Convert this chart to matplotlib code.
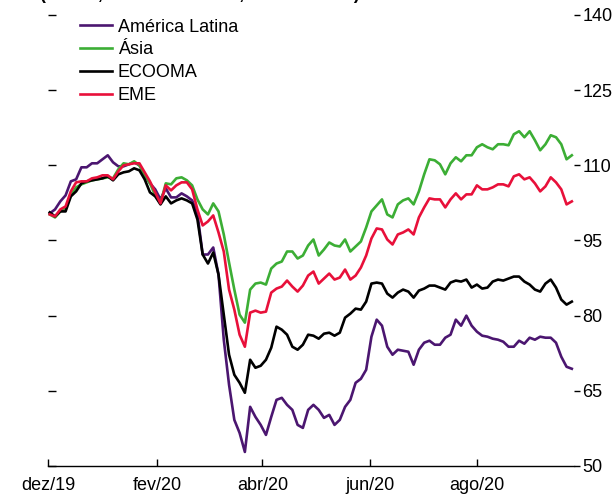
import matplotlib
matplotlib.use("Agg")
import matplotlib.pyplot as plt
import pandas as pd

plt.rcParams['font.family'] = ['Liberation Sans', 'DejaVu Sans']

# Datas (amostra a cada 3 dias a partir de 2/12/2019)
datas = pd.date_range('2019-12-02', periods=100, freq='3D')

america_latina = [
    100.4, 101.2, 102.8, 104.0, 106.8, 107.2, 109.6, 109.6, 110.4, 110.4,
    111.2, 112.0, 110.6, 109.8, 109.8, 110.2, 110.6, 110.0, 108.2, 106.4,
    105.2, 103.2, 105.4, 103.6, 103.6, 104.4, 103.8, 103.0, 100.4, 92.2,
    92.2, 93.6, 88.2, 75.2, 66.2, 59.2, 56.6, 52.8, 61.8, 59.8,
    58.2, 56.2, 59.8, 63.2, 63.6, 62.2, 61.2, 58.2, 57.6, 61.2,
    62.2, 61.2, 59.6, 60.2, 58.2, 59.2, 61.8, 63.2, 66.6, 67.4,
    69.2, 75.8, 79.2, 78.0, 73.8, 72.2, 73.2, 73.0, 72.8, 70.2,
    73.2, 74.6, 75.0, 74.2, 74.2, 75.6, 76.2, 79.2, 78.0, 80.0,
    78.0, 76.8, 76.0, 75.8, 75.4, 75.2, 74.8, 73.8, 73.8, 75.0,
    74.4, 75.6, 75.2, 75.8, 75.6, 75.6, 74.6, 71.8, 69.8, 69.4]

asia = [
    100.2, 99.6, 100.8, 101.4, 104.0, 105.6, 106.2, 106.6, 107.0, 107.2,
    107.4, 107.6, 107.4, 109.2, 110.4, 110.2, 110.8, 110.0, 108.0, 106.4,
    104.0, 102.4, 106.4, 106.2, 107.4, 107.6, 107.0, 106.0, 103.2, 101.2,
    100.2, 102.4, 100.8, 96.2, 90.6, 85.2, 80.2, 78.6, 85.2, 86.4,
    86.6, 86.2, 89.4, 90.4, 90.8, 92.8, 92.8, 91.4, 92.0, 94.0,
    95.2, 92.0, 93.2, 94.6, 94.0, 93.8, 95.2, 92.8, 93.8, 94.8,
    97.6, 100.8, 102.0, 103.2, 100.2, 99.6, 102.2, 103.0, 103.4, 102.2,
    104.8, 108.2, 111.2, 111.0, 110.2, 108.2, 110.4, 111.6, 110.8, 112.0,
    112.0, 113.6, 114.2, 113.6, 113.2, 114.2, 114.2, 114.0, 116.2, 116.8,
    115.6, 116.8, 115.0, 113.0, 114.2, 116.0, 115.6, 114.2, 111.2, 112.0]

ecooma = [
    100.6, 99.8, 100.8, 100.8, 103.8, 104.8, 106.4, 106.8, 107.0, 107.2,
    107.4, 107.8, 107.0, 108.2, 108.6, 108.8, 109.4, 109.0, 107.2, 104.6,
    103.8, 102.2, 103.8, 102.4, 103.0, 103.4, 103.0, 102.4, 99.2, 92.2,
    90.4, 92.6, 88.2, 80.2, 72.2, 68.2, 66.6, 64.6, 71.2, 69.6,
    70.0, 71.2, 73.6, 77.8, 77.2, 76.2, 73.8, 73.2, 74.2, 76.2,
    76.0, 75.4, 76.4, 76.6, 76.0, 76.6, 79.6, 80.4, 81.4, 81.2,
    82.8, 86.4, 86.6, 86.4, 84.4, 83.6, 84.6, 85.2, 84.8, 83.6,
    85.0, 85.4, 86.0, 86.0, 85.6, 85.2, 86.6, 87.0, 86.8, 87.2,
    85.6, 86.2, 85.4, 85.6, 86.8, 87.2, 87.0, 87.4, 87.8, 87.8,
    86.8, 86.2, 85.2, 84.8, 86.4, 87.2, 85.6, 83.2, 82.2, 82.8]

eme = [
    100.2, 99.8, 101.2, 101.8, 104.8, 106.6, 106.8, 106.8, 107.4, 107.6,
    108.0, 108.0, 107.2, 108.8, 110.0, 110.2, 110.4, 110.4, 108.6, 106.8,
    104.6, 102.4, 106.0, 105.0, 106.0, 106.6, 106.6, 105.2, 101.2, 98.0,
    98.8, 100.0, 96.6, 92.8, 85.2, 81.2, 76.2, 73.8, 80.6, 81.0,
    80.6, 80.8, 84.6, 85.4, 85.8, 87.0, 85.8, 84.8, 86.0, 88.0,
    88.8, 86.4, 87.4, 88.4, 87.2, 87.6, 89.2, 87.2, 88.0, 89.6,
    92.0, 95.4, 97.4, 97.2, 95.2, 94.2, 96.2, 96.6, 97.2, 96.2,
    99.6, 101.6, 103.4, 103.2, 103.2, 101.6, 103.2, 104.4, 103.2, 104.2,
    104.2, 106.0, 105.2, 105.2, 105.6, 106.2, 106.2, 105.8, 107.8, 108.2,
    107.2, 107.6, 106.4, 104.8, 105.8, 107.6, 106.6, 105.2, 102.2, 102.8]

series = [
    ('América Latina', america_latina, '#4b1670'),
    ('Ásia', asia, '#3cae35'),
    ('ECOOMA', ecooma, '#000000'),
    ('EME', eme, '#e8103a'),
]

tick_datas = pd.to_datetime(['2019-12-01', '2020-02-01', '2020-04-01',
                             '2020-06-01', '2020-08-01'])
tick_rotulos = ['dez/19', 'fev/20', 'abr/20', 'jun/20', 'ago/20']
y_ticks = [50, 65, 80, 95, 110, 125, 140]

fig = plt.figure(figsize=(6.13, 5.01), dpi=100)
ax = fig.add_axes([0.0783, 0.0699, 0.8574, 0.9002])

for nome, valores, cor in series:
    ax.plot(datas, valores, color=cor, lw=1.9, label=nome, clip_on=False)

ax.set_xlim(pd.Timestamp('2019-12-01'), pd.Timestamp('2020-09-25'))
ax.set_ylim(50, 140)

for lado in ['top', 'left', 'right']:
    ax.spines[lado].set_visible(False)
ax.spines['bottom'].set_linewidth(1.0)

ax.set_xticks(tick_datas)
ax.set_xticklabels(tick_rotulos)
ax.tick_params(axis='x', direction='in', length=5, width=1.0, pad=8,
               labelsize=13)
ax.set_yticks(y_ticks)
ax.tick_params(axis='y', direction='in', length=6, width=1.0,
               labelleft=False)

ax2 = ax.twinx()
ax2.set_ylim(50, 140)
ax2.set_yticks(y_ticks)
for lado in ['top', 'left', 'right', 'bottom']:
    ax2.spines[lado].set_visible(False)
ax2.tick_params(axis='y', direction='out', length=4.5, width=1.0, pad=2,
                labelsize=13)

leg = ax.legend(loc='upper left', bbox_to_anchor=(0.061, 0.992), frameon=False,
                fontsize=13, handlelength=1.75, handletextpad=0.35,
                labelspacing=0.32, borderpad=0, borderaxespad=0)

# título cortado no topo da imagem
fig.text(0.066, 1.002, '(Índice, 2/12/2019 = 100; moeda local)',
         fontsize=13, fontweight='bold', va='baseline', ha='left')

fig.savefig('out.png', dpi=100)
